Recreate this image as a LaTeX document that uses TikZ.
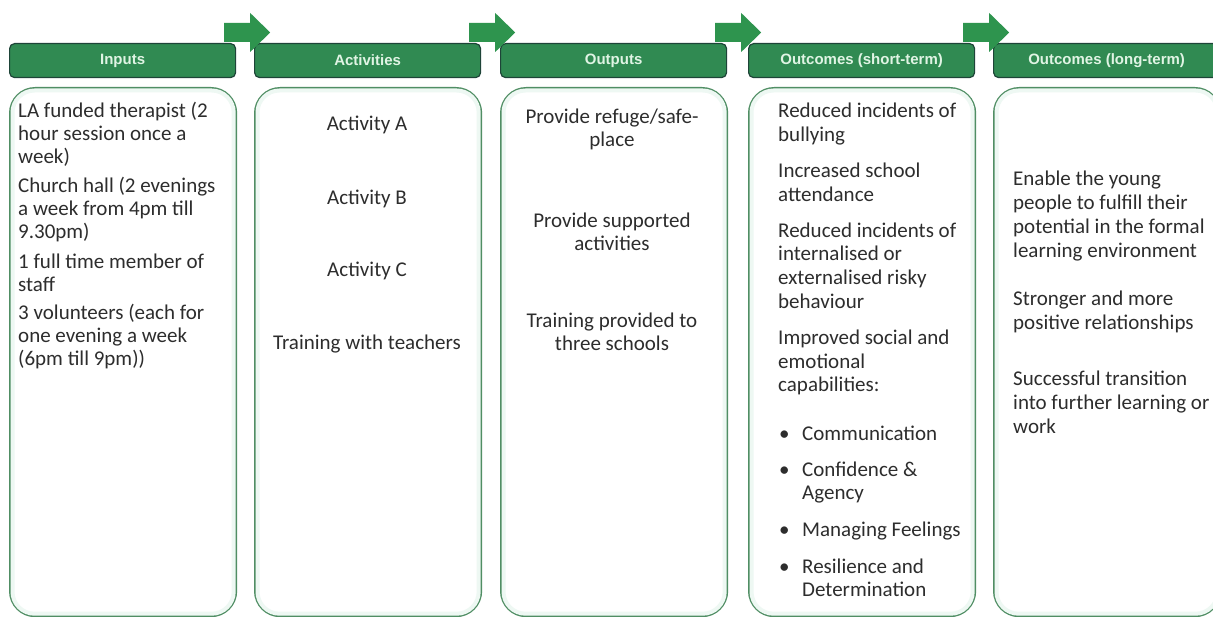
\documentclass[tikz,border=0pt]{standalone}
\usepackage{fontspec}
\setmainfont{Carlito}
\newfontfamily\hdfont{Liberation Sans}
\definecolor{barfill}{RGB}{48,138,82}
\definecolor{bardraw}{RGB}{30,68,56}
\definecolor{arrowc}{RGB}{46,148,78}
\definecolor{boxline}{RGB}{80,142,100}
\definecolor{glowc}{RGB}{238,248,243}
\definecolor{hdtext}{RGB}{224,244,228}
\definecolor{txt}{RGB}{45,45,45}
\newcommand{\lpar}[1]{\begin{tabular}[t]{@{}l@{}}#1\end{tabular}}
\newcommand{\cpar}[1]{\begin{tabular}[t]{@{}c@{}}#1\end{tabular}}
\begin{document}
\begin{tikzpicture}[x=1pt,y=-1pt,
  bar/.style={draw=bardraw, fill=barfill, line width=1.2pt, rounded corners=5pt,
    minimum width=226pt, minimum height=34pt, anchor=north west, inner sep=0pt,
    font=\hdfont\bfseries\fontsize{15}{17}\selectfont, text=hdtext},
  cbox/.style={draw=boxline, fill=white, line width=2.2pt, rounded corners=25pt,
    minimum width=226pt, minimum height=528pt, anchor=north west, inner sep=0pt},
  glowline/.style={draw=glowc, line width=4pt, rounded corners=22pt},
  flow/.style={fill=arrowc, draw=none},
  tl/.style={anchor=base west, inner sep=0pt, text=txt,
    font=\fontsize{21}{23}\selectfont},
  tc/.style={anchor=base, inner sep=0pt, text=txt,
    font=\fontsize{21}{23}\selectfont},
  tlw/.style={tl, font=\fontsize{21}{23.6}\selectfont},
  tlf/.style={tl, font=\fontsize{21}{24}\selectfont}
]
\useasboundingbox (0,0) rectangle (1213,617);
\clip (0,0) rectangle (1213,617);
\fill[white] (0,0) rectangle (1213,617);

% header bars
\node[bar] (h1) at (9,43)   {Inputs};
\node[bar] (h2) at (254,43) {Activities};
\node[bar] (h3) at (500,43) {Outputs};
\node[bar] (h4) at (748,43) {Outcomes (short-term)};
\node[bar] (h5) at (993,43) {Outcomes (long-term)};

% flow arrows between headers
\foreach \a in {h1,h2,h3,h4}{
  \fill[flow] ([shift={(-12pt,20pt)}]\a.north east) -- ++(26pt,0) -- ++(0,10pt)
    -- ++(20pt,-19.5pt) -- ++(-20pt,-19.5pt) -- ++(0,10pt) -- ++(-26pt,0) -- cycle;
}

% content boxes
\foreach \n/\x in {b1/9,b2/254,b3/500,b4/748,b5/993}{
  \node[cbox] (\n) at (\x,87) {};
  \draw[glowline] ([shift={(3.5pt,-3.5pt)}]\n.north west) rectangle ([shift={(-3.5pt,3.5pt)}]\n.south east);
}

% column 1
\node[tl] (t1) at (18,118) {\lpar{LA funded therapist (2\\hour session once a\\week)\\[6pt]
Church hall (2 evenings\\a week from 4pm till\\9.30pm)\\[7pt]
1 full time member of\\staff\\[5pt]
3 volunteers (each for\\one evening a week\\(6pm till 9pm))}};

% column 2
\node[tc] (a1) at (367,131) {Activity A};
\node[tc] (a2) at (367,205) {Activity B};
\node[tc] (a3) at (367,277) {Activity C};
\node[tc] (a4) at (367,350) {Training with teachers};

% column 3
\node[tc] (o1) at (612,124) {\cpar{Provide refuge/safe-\\place}};
\node[tc] (o2) at (612,228) {\cpar{Provide supported\\activities}};
\node[tc] (o3) at (612,328) {\cpar{Training provided to\\three schools}};

% column 4
\node[tlw] (s1) at (778,118) {\lpar{Reduced incidents of\\bullying\\[12.5pt]
Increased school\\attendance\\[12.5pt]
Reduced incidents of\\internalised or\\externalised risky\\behaviour\\[13pt]
Improved social and\\emotional\\capabilities:}};
\node[tl] (u1) at (779,440) {\textbullet};
\node[tl] (v1) at (802,440) {Communication};
\node[tl] (u2) at (779,476) {\textbullet};
\node[tlw] (v2) at (802,476) {\lpar{Confidence \&\\Agency}};
\node[tl] (u3) at (779,536) {\textbullet};
\node[tl] (v3) at (802,536) {Managing Feelings};
\node[tl] (u4) at (779,573) {\textbullet};
\node[tlw] (v4) at (802,573) {\lpar{Resilience and\\Determination}};

% column 5
\node[tlf] (l1) at (1013,186) {\lpar{Enable the young\\people to fulfill their\\potential in the formal\\learning environment}};
\node[tlf] (l2) at (1013,306) {\lpar{Stronger and more\\positive relationships}};
\node[tlf] (l3) at (1013,386) {\lpar{Successful transition\\into further learning or\\work}};
\end{tikzpicture}
\end{document}
